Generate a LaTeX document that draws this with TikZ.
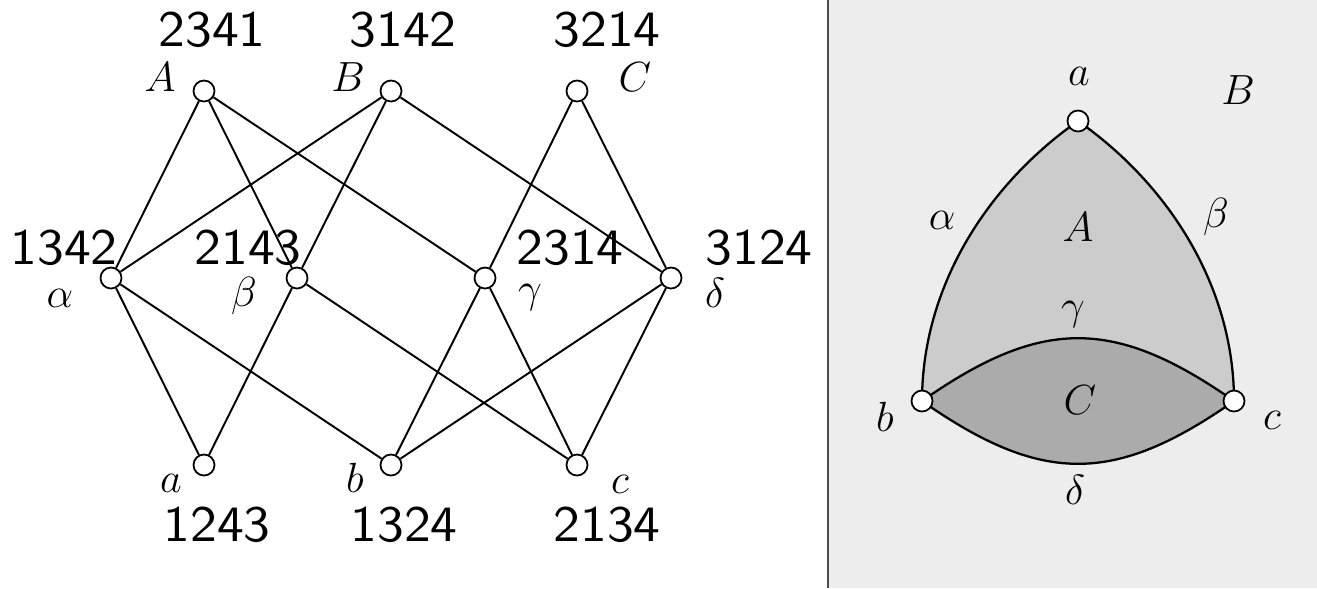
\documentclass[tikz,border=0pt]{standalone}
\usepackage{fontspec}
\newfontfamily\permfont{lmsans10-regular}[Extension=.otf]
\usetikzlibrary{positioning}

\begin{document}
\begin{tikzpicture}[
  vertex/.style={circle, draw, fill=white, inner sep=0pt, minimum size=0.21cm, line width=0.5pt},
  edge/.style={line width=0.55pt},
  arcline/.style={line width=0.65pt},
  perm/.style={font=\permfont\fontsize{14.5}{17}\selectfont, inner sep=0pt, xscale=1.05},
  lab/.style={font=\fontsize{13}{15}\selectfont, inner sep=0pt}]
  \useasboundingbox (0,0) rectangle (13.17,5.88);

  % Right panel background
  \fill[black!7] (8.28,0) rectangle (13.17,5.88);
  \draw[black!70, line width=0.5pt] (8.28,0) -- (8.28,5.88);

  % Left side: permutations
  \node[vertex] (A) at (2.04,4.97) {};
  \node[vertex] (B) at (3.91,4.97) {};
  \node[vertex] (C) at (5.77,4.97) {};
  \node[vertex] (al) at (1.11,3.10) {};
  \node[vertex] (be) at (2.97,3.10) {};
  \node[vertex] (ga) at (4.85,3.10) {};
  \node[vertex] (de) at (6.71,3.10) {};
  \node[vertex] (a) at (2.04,1.23) {};
  \node[vertex] (b) at (3.91,1.23) {};
  \node[vertex] (c) at (5.77,1.23) {};
  \foreach \u/\v in {A/al, A/be, A/ga, B/al, B/be, B/de, C/ga, C/de,
                     al/a, al/b, be/a, be/c, ga/b, ga/c, de/b, de/c}
    \draw[edge] (\u) -- (\v);

  \node[perm] (pA) at (2.12,5.58) {2341};
  \node[lab] (lA) at (1.60,5.11) {$A$};
  \node[perm] (pB) at (4.03,5.58) {3142};
  \node[lab] (lB) at (3.48,5.11) {$B$};
  \node[perm] (pC) at (6.07,5.58) {3214};
  \node[lab] (lC) at (6.35,5.11) {$C$};
  \node[perm] (pal) at (0.64,3.40) {1342};
  \node[lab] (lal) at (0.60,2.90) {$\alpha$};
  \node[perm] (pbe) at (2.48,3.40) {2143};
  \node[lab] (lbe) at (2.44,2.92) {$\beta$};
  \node[perm] (pga) at (5.70,3.40) {2314};
  \node[lab] (lga) at (5.30,2.90) {$\gamma$};
  \node[perm] (pde) at (7.59,3.40) {3124};
  \node[lab] (lde) at (7.15,2.95) {$\delta$};
  \node[lab] (la) at (1.71,1.05) {$a$};
  \node[perm] (pa) at (2.17,0.63) {1243};
  \node[lab] (lb) at (3.55,1.10) {$b$};
  \node[perm] (pb) at (4.04,0.63) {1324};
  \node[lab] (lc) at (6.20,1.04) {$c$};
  \node[perm] (pc) at (6.07,0.63) {2134};

  % Right side: regions
  \coordinate (qa) at (10.78,4.67);
  \coordinate (qb) at (9.22,1.87);
  \coordinate (qc) at (12.34,1.87);
  \fill[black!20] (qa) to[out=215,in=90,looseness=0.9] (qb)
    to[out=35,in=145,looseness=1.2] (qc) to[out=90,in=-35,looseness=0.9] (qa);
  \fill[black!33] (qb) to[out=35,in=145,looseness=1.2] (qc)
    to[out=-145,in=-35,looseness=1.2] (qb);
  \draw[arcline] (qa) to[out=215,in=90,looseness=0.9] (qb);
  \draw[arcline] (qa) to[out=-35,in=90,looseness=0.9] (qc);
  \draw[arcline] (qb) to[out=35,in=145,looseness=1.2] (qc);
  \draw[arcline] (qb) to[out=-35,in=-145,looseness=1.2] (qc);
  \node[vertex] (ra) at (qa) {};
  \node[vertex] (rb) at (qb) {};
  \node[vertex] (rc) at (qc) {};

  \node[lab] (ma) at (10.79,5.12) {$a$};
  \node[lab] (mB) at (12.38,4.98) {$B$};
  \node[lab] (mal) at (9.42,3.68) {$\alpha$};
  \node[lab] (mA) at (10.78,3.61) {$A$};
  \node[lab] (mbe) at (12.16,3.71) {$\beta$};
  \node[lab] (mga) at (10.73,2.73) {$\gamma$};
  \node[lab] (mC) at (10.80,1.88) {$C$};
  \node[lab] (mb) at (8.85,1.71) {$b$};
  \node[lab] (mc) at (12.72,1.68) {$c$};
  \node[lab] (mde) at (10.75,0.98) {$\delta$};
\end{tikzpicture}
\end{document}
